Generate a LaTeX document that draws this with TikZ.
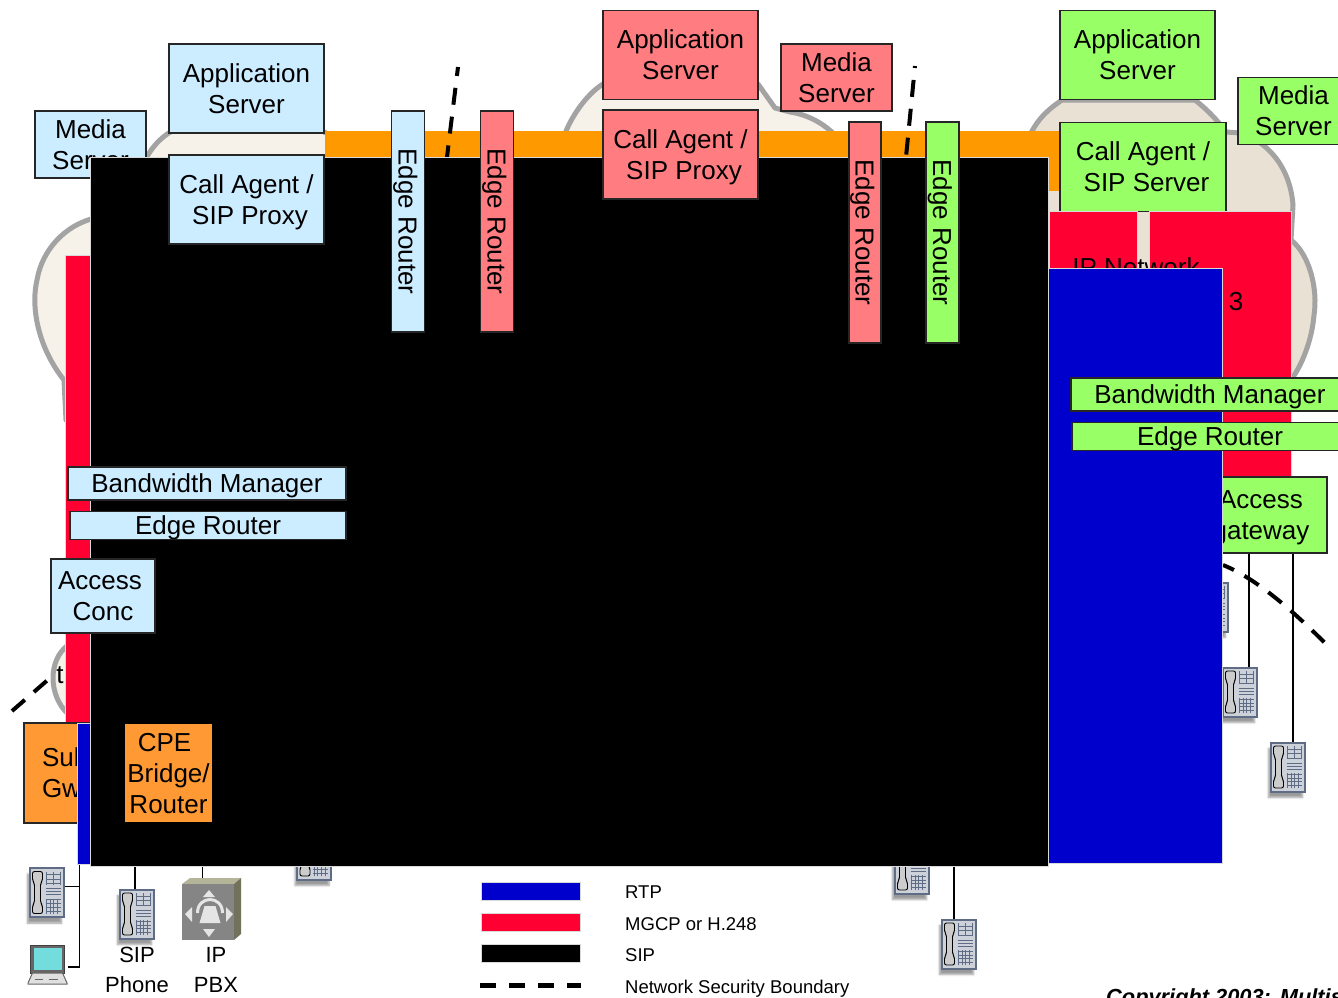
\documentclass[tikz,border=0pt]{standalone}
\usepackage{fontspec}
\setmainfont{Liberation Sans}
\usepackage{tikz}
\usetikzlibrary{calc,backgrounds,shadows.blur}
\definecolor{hwblue}{HTML}{CCECFF}
\definecolor{hwpink}{HTML}{FF7C80}
\definecolor{hwgreen}{HTML}{99FF66}
\definecolor{hworange}{HTML}{FF9933}
\definecolor{barorange}{HTML}{FF9900}
\definecolor{mgcpred}{HTML}{FF0033}
\definecolor{rtpblue}{HTML}{0000CC}
\definecolor{cloudpale}{HTML}{F6F1E9}
\definecolor{cloudfill}{HTML}{E9E2D4}
\definecolor{cloudline}{HTML}{A3A3A3}
\definecolor{phoneedge}{HTML}{5F6C86}
\definecolor{phonebody}{HTML}{CDD1DA}
\definecolor{pbxface}{HTML}{858585}
\definecolor{pbxtop}{HTML}{B4B498}
\definecolor{pbxside}{HTML}{72725C}
\begin{document}
\begin{tikzpicture}[
   x=1pt,y=-1pt,
   hwbox/.style={rectangle,draw=black!85,line width=1.7pt,inner sep=0pt,align=center,text depth=0pt,
     font=\fontsize{26}{31}\selectfont},
   bluebox/.style={hwbox,fill=hwblue},
   pinkbox/.style={hwbox,fill=hwpink},
   greenbox/.style={hwbox,fill=hwgreen},
   orangebox/.style={hwbox,fill=hworange},
   proto/.style={rectangle,draw=white!85!black,line width=0.8pt,inner sep=0pt},
   cloud/.style={draw=cloudline,line width=5pt,fill=cloudpale,line join=round},
   boundary/.style={black,line width=4pt,dash pattern=on 17pt off 12pt},
   wire/.style={black,line width=1.7pt},
   lbl/.style={inner sep=0pt,align=center,font=\fontsize{26}{31}\selectfont},
   termlbl/.style={inner sep=0pt,align=center,font=\fontsize{22}{30}\selectfont},
   legendtxt/.style={inner sep=0pt,anchor=west,text depth=0pt,font=\fontsize{18.5}{22}\selectfont},
   deskphone/.style={rectangle,draw=phoneedge,line width=2pt,fill=phonebody,inner sep=0pt,
     minimum width=34pt,minimum height=49pt,
     blur shadow={shadow xshift=-2pt,shadow yshift=-6pt,shadow blur steps=5},
     path picture={
       \begin{scope}[shift={(path picture bounding box.center)}]
         \draw[black,fill=white!80!black,line width=0.9pt,rounded corners=2pt]
            (-14,-21) -- (-4,-21) -- (-4,-12) -- (-6,-9) -- (-6,10) -- (-4,13) -- (-4,21) -- (-14,21)
            -- (-14,13) -- (-12,10) -- (-12,-9) -- (-14,-12) -- cycle;
         \draw[phoneedge,fill=white,line width=0.9pt,xstep=7pt,ystep=4.5pt] (0,-21) grid (14,-8);
         \draw[phoneedge,line width=0.9pt] (-1,-4) -- (14,-4) (-1,-1) -- (14,-1) (-1,2) -- (14,2);
         \draw[phoneedge,fill=white,line width=0.9pt,xstep=3.7pt,ystep=3.7pt] (-1,6) grid (14,21);
       \end{scope}}},
   laptopbox/.style={rectangle,inner sep=0pt,minimum width=40pt,minimum height=40pt,
     path picture={
       \begin{scope}[shift={(path picture bounding box.center)}]
         \draw[black!75,fill=black!60,line width=1pt] (-17,-20) rectangle (17,8);
         \fill[teal!50!cyan!55] (-14,-17) rectangle (14,5);
         \draw[black!60,fill=black!12,line width=1pt] (-15,8) -- (15,8) -- (20,19) -- (-20,19) -- cycle;
         \draw[black!60,line width=1pt] (-13,14) -- (-5,14) (1,14) -- (10,14);
       \end{scope}}},
   pbxbox/.style={rectangle,inner sep=0pt,minimum width=59pt,minimum height=62pt,
     path picture={
       \begin{scope}[shift={(path picture bounding box.center)}]
         \fill[pbxtop] (-29.5,-25) -- (-21.5,-31) -- (29.5,-31) -- (22.5,-25) -- cycle;
         \fill[pbxside] (22.5,-25) -- (29.5,-31) -- (29.5,25) -- (22.5,31) -- cycle;
         \fill[pbxface] (-29.5,-25) rectangle (22.5,31);
         \fill[black!10] (-2.5,-19) -- (3.5,-12) -- (-8.5,-12) -- cycle;
         \fill[black!10] (-2.5,28) -- (3.5,20) -- (-8.5,20) -- cycle;
         \fill[black!10] (-26.5,5) -- (-19.5,-2) -- (-19.5,13) -- cycle;
         \fill[black!10] (21.5,5) -- (14.5,-2) -- (14.5,13) -- cycle;
         \draw[black!10,line width=3pt] (-14,4) .. controls (-14,-14) and (11,-14) .. (11,4);
         \fill[black!10] (-7,-3) -- (4,-3) -- (9,14) -- (-12,14) -- cycle;
       \end{scope}}}]
  \useasboundingbox (0,0) rectangle (1338,997);
  \clip (0,0) rectangle (1338,997);
  % clouds behind the networks
  \draw[cloud] (66,420) -- (64,380) .. controls (40,350) and (30,310) .. (37,280)
     .. controls (42,250) and (65,225) .. (95,218) -- (140,170)
     .. controls (150,148) and (160,138) .. (172,131) -- (322,131) -- (340,140) -- (340,440) -- cycle;
  \draw[cloud] (566,131) .. controls (575,110) and (590,92) .. (603,84) -- (758,84) -- (775,108)
     -- (790,112) .. controls (810,115) and (825,125) .. (835,135) -- (835,170) -- (566,170) -- cycle;
  \draw[cloud,fill=cloudfill] (1030,135) .. controls (1038,118) and (1050,108) .. (1062,100) -- (1195,100)
     .. controls (1205,108) and (1215,117) .. (1226,132) -- (1240,133)
     .. controls (1265,140) and (1290,165) .. (1293,205) -- (1291,240)
     .. controls (1310,255) and (1318,290) .. (1314,315)
     .. controls (1312,340) and (1302,365) .. (1291,380) -- (1100,380) -- (1100,300) -- (1040,300) -- cycle;
  \draw[cloud] (68,645) .. controls (48,660) and (48,695) .. (68,714) -- (82,714) -- (82,645) -- cycle;
  \node[lbl] (acctxt) at (60,675) {t};
  % backbone bar
  \node[rectangle,fill=barorange,inner sep=0pt,minimum width=734pt,minimum height=26pt] (backbone) at (692,144) {};
  \node[rectangle,fill=barorange,inner sep=0pt,minimum width=11pt,minimum height=60pt] (backdrop) at (1054,161) {};
  % security boundaries
  \draw[boundary,dash phase=8pt] (458,67) -- (447,157);
  \draw[boundary,dash phase=15pt] (915,66) -- (906,157);
  \draw[boundary] (12,711) -- (50,678);
  \draw[boundary,dash phase=5pt] (1223,565) .. controls (1255,578) and (1290,608) .. (1326,644);
  % left network
  \node[bluebox,minimum width=111pt,minimum height=67pt] (mediaa) at (90.5,144.5) {Media\\Server};
  \node[proto,fill=mgcpred,minimum width=25pt,minimum height=467pt] (mgcpa) at (77.5,489) {};
  \node[orangebox,minimum width=111pt,minimum height=100pt,text width=75pt,align=left,text depth=] (subgw) at (79.5,773) {Sub\\Gw};
  \node[proto,fill=rtpblue,minimum width=13pt,minimum height=141pt] (rtpa) at (83.5,793.5) {};
  % terminals
  \node[deskphone] (pha) at (46.5,892.5) {};
  \node[laptopbox] (laptop) at (47.5,965) {};
  \node[deskphone] (phb) at (136.5,914) {};
  \node[pbxbox] (pbx) at (211.5,909) {};
  \node[deskphone] (phc) at (314,855) {};
  \node[deskphone] (phd) at (911.5,869) {};
  \node[deskphone] (phe) at (958.5,944) {};
  % the large block
  \node[proto,fill=black,minimum width=958pt,minimum height=709pt] (sipblock) at (569,511.5) {};
  % right network
  \node[greenbox,minimum width=166pt,minimum height=89pt] (casrv) at (1143,167) {Call Agent /\\\hspace*{7pt}SIP Server};
  \node[proto,fill=mgcpred,minimum width=142pt,minimum height=267pt] (mgcpc) at (1220,344.5) {};
  \node[proto,fill=mgcpred,minimum width=88pt,minimum height=100pt] (mgcpd) at (1093,261) {};
  \node[lbl] (ipnet) at (1136,267) {IP Network};
  \node[lbl] (ipnum) at (1236,301.5) {3};
  \node[greenbox,minimum width=132pt,minimum height=76pt,text depth=-5pt] (agw) at (1261,515) {Access\\gateway};
  \node[deskphone] (phf) at (1210.5,607) {};
  \node[deskphone] (phg) at (1239.5,692) {};
  \node[deskphone] (phh) at (1287.5,767) {};
  \node[proto,fill=rtpblue,minimum width=174pt,minimum height=595pt] (rtpb) at (1135.5,566) {};
  \node[greenbox,minimum width=155pt,minimum height=89pt,text depth=-4pt] (appc) at (1137.5,55) {Application\\Server};
  \node[greenbox,minimum width=111pt,minimum height=67pt] (mediac) at (1293.5,111) {Media\\Server};
  \node[greenbox,minimum width=278pt,minimum height=33pt] (bwmc) at (1210,394.5) {Bandwidth Manager};
  \node[greenbox,minimum width=276pt,minimum height=28pt] (edgec) at (1210,436.5) {Edge Router};
  % left boxes on top
  \node[bluebox,minimum width=155pt,minimum height=89pt] (appa) at (246.5,88.5) {Application\\Server};
  \node[bluebox,minimum width=155pt,minimum height=89pt] (caa) at (246.5,199.5) {Call Agent /\\\hspace*{7pt}SIP Proxy};
  \node[bluebox,minimum width=278pt,minimum height=33pt] (bwma) at (207,483.5) {Bandwidth Manager};
  \node[bluebox,minimum width=276pt,minimum height=28pt] (edgea) at (208,525.5) {Edge Router};
  \node[bluebox,minimum width=104pt,minimum height=74pt,text depth=-4pt] (acca) at (103,596) {Access\hspace*{6pt}\\Conc};
  \node[hwbox,fill=hworange,draw=none,minimum width=87pt,minimum height=98pt,text depth=-3pt] (cpe) at (168.5,773) {CPE\hspace*{8pt}\\Bridge/\hspace*{6pt}\\Router};
  \node[bluebox,rotate=-90,minimum width=221pt,minimum height=33pt] (edgeb) at (408,221.5) {Edge Router};
  % middle network
  \node[pinkbox,rotate=-90,minimum width=221pt,minimum height=33pt] (edged) at (497,221.5) {Edge Router};
  \node[pinkbox,minimum width=155pt,minimum height=89pt,text depth=-4pt] (appb) at (680.5,55) {Application\\Server};
  \node[pinkbox,minimum width=155pt,minimum height=89pt,text depth=-8pt] (cab) at (680.5,154.5) {Call Agent /\\\hspace*{7pt}SIP Proxy};
  \node[pinkbox,minimum width=111pt,minimum height=67pt] (mediab) at (836.5,77.5) {Media\\Server};
  \node[pinkbox,rotate=-90,minimum width=221pt,minimum height=32pt] (edgee) at (865,232.5) {Edge Router};
  \node[greenbox,rotate=-90,minimum width=221pt,minimum height=33pt] (edgef) at (942.5,232.5) {Edge Router};
  % terminal labels
  \node[termlbl] (sipl) at (137,970) {SIP\\Phone};
  \node[termlbl] (pbxl) at (216,970) {IP\\PBX};
  % legend
  \node[proto,fill=rtpblue,minimum width=99pt,minimum height=18pt] (keyrtp) at (530.5,891) {};
  \node[proto,fill=mgcpred,minimum width=99pt,minimum height=18pt] (keymgcp) at (530.5,922) {};
  \node[proto,fill=black,minimum width=99pt,minimum height=18pt] (keysip) at (530.5,953.5) {};
  \draw[black,line width=5pt,dash pattern=on 16pt off 13pt] (480,985) -- (581,985);
  \node[legendtxt] (txtrtp) at (625,892) {RTP};
  \node[legendtxt] (txtmgcp) at (625,924) {MGCP or H.248};
  \node[legendtxt] (txtsip) at (625,955) {SIP};
  \node[legendtxt] (txtsec) at (625,987) {Network Security Boundary};
  \node[inner sep=0pt,anchor=base west,font=\fontsize{21.8}{26}\selectfont\bfseries\itshape] (copyr) at (1106,1004) {Copyright 2003:\hspace{9pt}Multis};
  % wires to the terminals
  \begin{scope}[on background layer]
    \draw[wire] (subgw.south) |- ([yshift=-2pt]laptop.east);
    \draw[wire] ([yshift=6pt]pha.east) -- ([yshift=6pt]pha.east -| subgw.south);
    \draw[wire] ([xshift=-1.5pt]phb.north) -- ([xshift=-1.5pt]phb.north |- cpe.south);
    \draw[wire] ([xshift=-9pt]pbx.north) -- ([xshift=-9pt]pbx.north |- cpe.south);
    \draw[wire] ([xshift=-4.5pt]phe.north) -- ([xshift=-4.5pt]phe.north |- sipblock.south);
    \draw[wire] ([xshift=9.5pt]phg.north) -- ([xshift=9.5pt]phg.north |- agw.south);
    \draw[wire] ([xshift=5.5pt]phh.north) -- ([xshift=5.5pt]phh.north |- agw.south);
  \end{scope}
\end{tikzpicture}
\end{document}
